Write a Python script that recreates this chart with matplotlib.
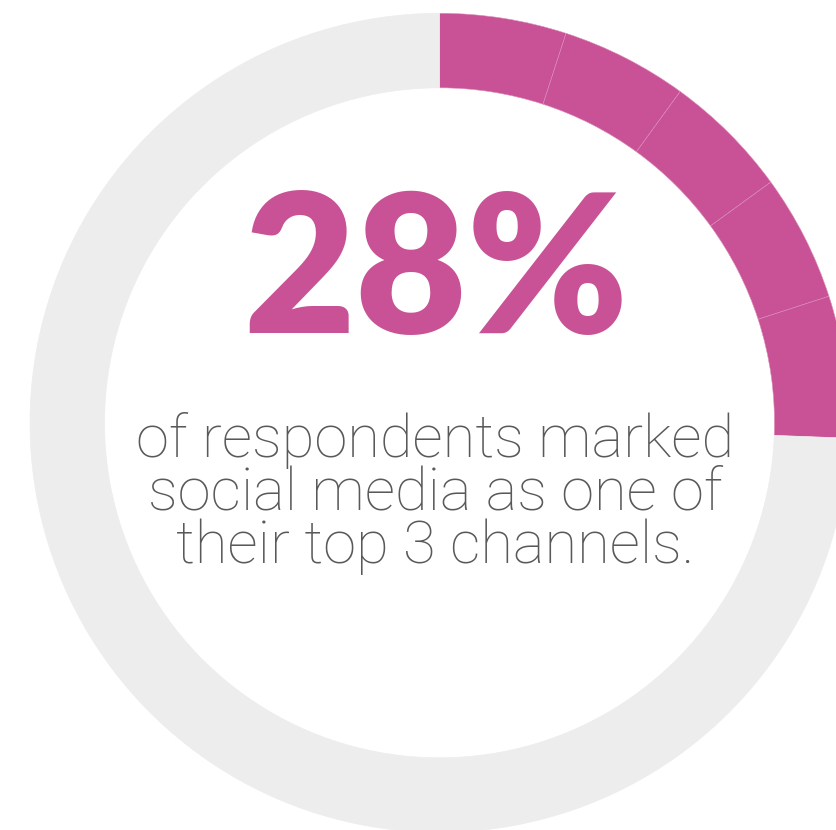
import matplotlib.pyplot as plt

# share of the ring, in percent, going clockwise from 12 o'clock
segments = [5, 5, 5, 5, 5.6]
rest = 100 - sum(segments)
headline = "28%"
caption = ["of respondents marked", "social media as one of", "their top 3 channels."]

pink = "#c85295"
grey = "#ededed"
text_grey = "#595959"

W, H = 836, 830
fig = plt.figure(figsize=(W / 100, H / 100), dpi=100)
ax = fig.add_axes([0, 0, 1, 1])

cx, cy = 439.5, H - 422.8
r_out, r_in = 409.5, 335.0

wedges, _ = ax.pie(segments + [rest], radius=r_out, center=(cx, cy),
                   startangle=90, counterclock=False, frame=True,
                   colors=[pink] * len(segments) + [grey],
                   wedgeprops=dict(width=r_out - r_in, linewidth=0))
for w in wedges[:-1]:
    w.set_edgecolor("#dc8cba")
    w.set_linewidth(0.4)
wedges[-1].set_edgecolor(grey)
wedges[-1].set_linewidth(0.5)

ax.text(cx - 4, H - 333, headline, ha="center", va="baseline",
        fontsize=139, color=pink, family=["Lato", "DejaVu Sans"],
        fontweight="heavy")

for i, line in enumerate(caption):
    ax.text(cx - 4, H - 457 - i * 53, line, ha="center", va="baseline",
            fontsize=43, color=text_grey, family=["Roboto", "DejaVu Sans"],
            fontweight="light")

ax.set_xlim(0, W)
ax.set_ylim(0, H)
ax.set_aspect("equal")
ax.axis("off")

fig.savefig("out.png", dpi=100)
